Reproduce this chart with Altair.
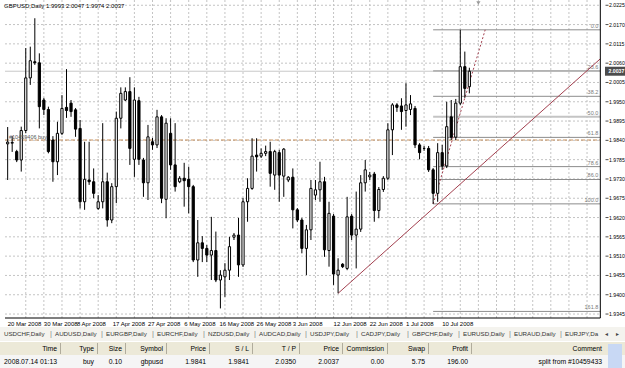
import altair as alt
import pandas as pd

# ---------------- data ----------------
OPEN = [1.9830,1.9832,1.9808,1.9784,1.9868,2.0018,2.0064,2.0061,1.9955,1.9928,
        1.9841,1.9779,1.9860,1.9934,1.9946,1.9927,1.9874,1.9665,1.9727,1.9722,
        1.9646,1.9665,1.9722,1.9613,1.9708,1.9903,1.9955,1.9979,1.9786,1.9953,
        1.9784,1.9719,1.9836,1.9827,1.9907,1.9672,1.9860,1.9770,1.9722,1.9732,
        1.9729,1.9708,1.9499,1.9548,1.9532,1.9513,1.9526,1.9442,1.9451,1.9470,
        1.9564,1.9570,1.9485,1.9665,1.9703,1.9798,1.9795,1.9803,1.9808,1.9741,
        1.9805,1.9738,1.9727,1.9735,1.9642,1.9613,1.9532,1.9585,1.9684,1.9699,
        1.9722,1.9526,1.9624,1.9456,1.9487,1.9475,1.9624,1.9570,1.9587,1.9719,
        1.9736,1.9744,1.9640,1.9700,1.9732,1.9870,1.9941,1.9938,1.9925,1.9928,
        1.9931,1.9827,1.9817,1.9817,1.9756,1.9689,1.9805,1.9767,1.9907,1.9849,
        1.9946,2.0050,1.9993]
HIGH = [1.9878,1.9852,1.9813,1.9879,2.0103,2.0107,2.0188,2.0088,1.9961,1.9936,
        1.9852,1.9893,1.9969,2.0043,1.9955,1.9932,1.9898,1.9836,1.9836,1.9760,
        1.9684,1.9889,1.9748,1.9718,1.9922,1.9991,1.9991,2.0020,1.9991,1.9964,
        1.9790,1.9884,1.9847,1.9927,1.9912,1.9903,1.9903,1.9889,1.9738,1.9776,
        1.9765,1.9713,1.9613,1.9567,1.9542,1.9622,1.9580,1.9470,1.9490,1.9565,
        1.9576,1.9619,1.9676,1.9732,1.9846,1.9846,1.9817,1.9825,1.9836,1.9813,
        1.9813,1.9818,1.9738,1.9760,1.9647,1.9619,1.9599,1.9727,1.9727,1.9779,
        1.9736,1.9665,1.9630,1.9504,1.9490,1.9679,1.9630,1.9694,1.9741,1.9784,
        1.9750,1.9750,1.9707,1.9738,1.9889,1.9946,1.9946,1.9960,2.0003,1.9969,
        1.9938,1.9832,1.9824,1.9824,1.9761,1.9832,1.9827,1.9950,1.9955,1.9958,
        2.0155,2.0093,2.0047]
LOW = [1.9727,1.9807,1.9778,1.9751,1.9861,1.9998,2.0055,1.9874,1.9912,1.9803,
       1.9722,1.9741,1.9855,1.9904,1.9907,1.9850,1.9646,1.9642,1.9713,1.9675,
       1.9642,1.9646,1.9594,1.9604,1.9661,1.9874,1.9952,1.9770,1.9736,1.9770,
       1.9679,1.9670,1.9813,1.9818,1.9661,1.9618,1.9756,1.9694,1.9718,1.9651,
       1.9632,1.9493,1.9451,1.9493,1.9493,1.9442,1.9436,1.9361,1.9394,1.9442,
       1.9556,1.9451,1.9479,1.9608,1.9699,1.9751,1.9790,1.9795,1.9708,1.9699,
       1.9665,1.9679,1.9721,1.9589,1.9607,1.9518,1.9456,1.9556,1.9670,1.9665,
       1.9508,1.9480,1.9428,1.9404,1.9476,1.9470,1.9556,1.9475,1.9579,1.9694,
       1.9727,1.9608,1.9618,1.9693,1.9727,1.9798,1.9921,1.9870,1.9879,1.9912,
       1.9818,1.9786,1.9810,1.9750,1.9659,1.9665,1.9756,1.9761,1.9841,1.9841,
       1.9941,1.9961,1.9974]
CLOSE = [1.9835,1.9834,1.9784,1.9868,2.0018,2.0067,2.0061,1.9936,1.9928,1.9808,
         1.9779,1.9860,1.9931,1.9925,1.9922,1.9872,1.9665,1.9729,1.9722,1.9689,
         1.9665,1.9722,1.9613,1.9708,1.9903,1.9974,1.9979,1.9817,1.9955,1.9786,
         1.9719,1.9850,1.9827,1.9907,1.9675,1.9889,1.9770,1.9708,1.9732,1.9725,
         1.9708,1.9499,1.9548,1.9532,1.9513,1.9526,1.9442,1.9456,1.9470,1.9537,
         1.9570,1.9485,1.9665,1.9703,1.9795,1.9793,1.9803,1.9808,1.9746,1.9808,
         1.9741,1.9815,1.9735,1.9642,1.9613,1.9532,1.9585,1.9703,1.9699,1.9722,
         1.9528,1.9632,1.9459,1.9470,1.9480,1.9622,1.9570,1.9587,1.9719,1.9756,
         1.9741,1.9640,1.9700,1.9732,1.9870,1.9941,1.9934,1.9922,1.9941,1.9944,
         1.9827,1.9805,1.9817,1.9756,1.9689,1.9805,1.9767,1.9879,1.9849,1.9946,
         2.0050,1.9988,2.0037]

DATE_LABELS = ["20 Mar 2008", "30 Mar 2008", "8 Apr 2008", "17 Apr 2008", "27 Apr 2008",
               "6 May 2008", "16 May 2008", "26 May 2008", "3 Jun 2008", "12 Jun 2008",
               "22 Jun 2008", "1 Jul 2008", "10 Jul 2008"]
DATE_IDX = [0, 8, 15.3, 23.2, 31, 39, 46.8, 55, 63, 72, 80, 88, 96]

PRICE_TICKS = [2.0225, 2.0170, 2.0115, 2.0060, 2.0005, 1.9950, 1.9895, 1.9840,
               1.9785, 1.9730, 1.9675, 1.9620, 1.9565, 1.9510, 1.9455, 1.9400, 1.9345]

BID = 2.0037
ORDER_PRICE = 1.9841
FIB_HIGH, FIB_LOW = 2.0155, 1.9659
FIB_START_IDX = 94
FIB_LEVELS = [0.0, 23.6, 38.2, 50.0, 61.8, 78.6, 86.0, 100.0, 161.8]
FIB_DIAG_IDX = [94, 105.5]
TREND_IDX = [73, 130.9]
TREND_PRICE = [1.9404, 2.0072]
SHIFT_IDX = 104

TABS = ["USDCHF,Daily", "AUDUSD,Daily", "EURGBP,Daily", "EURCHF,Daily", "NZDUSD,Daily",
        "AUDCAD,Daily", "USDJPY,Daily", "CADJPY,Daily", "GBPCHF,Daily", "EURUSD,Daily",
        "EURAUD,Daily", "EURJPY,Da"]
HEADERS = ["Time", "Type", "Size", "Symbol", "Price", "S / L", "T / P", "Price",
           "Commission", "Swap", "Profit", "Comment"]
ROW = ["2008.07.14 01:13", "buy", "0.10", "gbpusd", "1.9841", "1.9841", "2.0350",
       "2.0037", "0.00", "5.75", "196.00", "split from #10459433"]

# ---------------- layout (pixels) ----------------
W, H = 625, 368
X0_PX, BAR_PX = 2.7, 4.6          # first bar centre, bar spacing
Y_TOP_PRICE, PX_PRICE = 2.0240, 0.000285
AXIS_PX = 605
BOTTOM_PX = 318
FONT = "Liberation Sans"

XS = alt.Scale(domain=[-X0_PX / BAR_PX, (W - X0_PX) / BAR_PX], range=[0, W], nice=False, zero=False)
YS = alt.Scale(domain=[Y_TOP_PRICE - H * PX_PRICE, Y_TOP_PRICE], range=[H, 0], nice=False, zero=False)
X_LEFT = -X0_PX / BAR_PX
X_RIGHT = (AXIS_PX - X0_PX) / BAR_PX
Y_BOTTOM = Y_TOP_PRICE - BOTTOM_PX * PX_PRICE

n = len(OPEN)
df = pd.DataFrame({"idx": list(range(n)), "open": OPEN, "high": HIGH, "low": LOW, "close": CLOSE})
df["bull"] = df["close"] >= df["open"]

def X(f):
    return alt.X(f, type="quantitative", scale=XS, axis=None)

def Y(f):
    return alt.Y(f, type="quantitative", scale=YS, axis=None)

one = pd.DataFrame({"a": [0]})

def ptext(s, x, y, align="left", size=6.3, color="#000000", weight="normal"):
    return alt.Chart(one).mark_text(text=s, align=align, baseline="middle", fontSize=size,
                                    color=color, font=FONT, fontWeight=weight).encode(
        x=alt.value(x), y=alt.value(y))

def prect(x1, y1, x2, y2, fill, stroke=None):
    kw = dict(fill=fill)
    if stroke:
        kw.update(stroke=stroke, strokeWidth=1)
    return alt.Chart(one).mark_rect(**kw).encode(
        x=alt.value(x1), x2=alt.value(x2), y=alt.value(y1), y2=alt.value(y2))

layers = []

# grid
gh = pd.DataFrame({"p": PRICE_TICKS, "x1": X_LEFT, "x2": X_RIGHT})
layers.append(alt.Chart(gh).mark_rule(color="#c4c4c4", strokeDash=[2, 2], strokeWidth=1).encode(
    y=Y("p"), x=X("x1"), x2="x2"))
gv = pd.DataFrame({"i": list(range(4, 131, 4)), "y1": Y_BOTTOM, "y2": Y_TOP_PRICE})
layers.append(alt.Chart(gv).mark_rule(color="#c4c4c4", strokeDash=[2, 2], strokeWidth=1).encode(
    x=X("i"), y=Y("y1"), y2="y2"))

# bid line
layers.append(alt.Chart(pd.DataFrame({"p": [BID], "x1": [X_LEFT], "x2": [X_RIGHT]})).mark_rule(
    color="#c8c8c8", strokeWidth=1).encode(y=Y("p"), x=X("x1"), x2="x2"))

# order line
layers.append(alt.Chart(pd.DataFrame({"p": [ORDER_PRICE], "x1": [X_LEFT], "x2": [X_RIGHT]})).mark_rule(
    color="#c9925f", strokeDash=[4, 2], strokeWidth=1).encode(y=Y("p"), x=X("x1"), x2="x2"))

# fibonacci
fib = pd.DataFrame({"lvl": FIB_LEVELS})
fib["p"] = FIB_HIGH - fib["lvl"] / 100.0 * (FIB_HIGH - FIB_LOW)
fib["lab"] = fib["lvl"].map(lambda v: f"{v:.1f}")
fib["x1"] = FIB_START_IDX
fib["x2"] = X_RIGHT
fib_main = fib[fib["lvl"] != 50.0]
fib_half = fib[fib["lvl"] == 50.0]
layers.append(alt.Chart(fib_main).mark_rule(color="#8c8c8c", strokeWidth=1).encode(
    y=Y("p"), x=X("x1"), x2="x2"))
layers.append(alt.Chart(fib_half).mark_rule(color="#c4c4c4", strokeWidth=2).encode(
    y=Y("p"), x=X("x1"), x2="x2"))
layers.append(alt.Chart(fib).mark_text(align="right", baseline="bottom", fontSize=5.5, color="#7a7a7a",
                                       font=FONT, dx=-2, dy=-1).encode(
    y=Y("p"), x=X("x2"), text="lab:N"))
fdiag = pd.DataFrame({"i": FIB_DIAG_IDX, "p": [FIB_LOW, FIB_HIGH]})
layers.append(alt.Chart(fdiag).mark_line(color="#a3404f", strokeDash=[2, 2], strokeWidth=1).encode(
    x=X("i"), y=Y("p")))

# trend line
tr = pd.DataFrame({"i": TREND_IDX, "p": TREND_PRICE})
layers.append(alt.Chart(tr).mark_line(color="#a3404f", strokeWidth=1).encode(x=X("i"), y=Y("p")))

# candles
layers.append(alt.Chart(df).mark_rule(color="#000000", strokeWidth=1).encode(
    x=X("idx"), y=Y("low"), y2="high"))
layers.append(alt.Chart(df).mark_bar(size=2.2, stroke="#000000", strokeWidth=1).encode(
    x=X("idx"), y=Y("open"), y2="close",
    fill=alt.Fill("bull:N", scale=alt.Scale(domain=[True, False], range=["#ffffff", "#000000"]), legend=None)))

# axes frame
layers.append(alt.Chart(pd.DataFrame({"x": [X_RIGHT], "y1": [Y_BOTTOM], "y2": [Y_TOP_PRICE]})).mark_rule(
    color="#000000", strokeWidth=1).encode(x=X("x"), y=Y("y1"), y2="y2"))
layers.append(alt.Chart(pd.DataFrame({"y": [Y_BOTTOM], "x1": [X_LEFT], "x2": [X_RIGHT]})).mark_rule(
    color="#000000", strokeWidth=1).encode(y=Y("y"), x=X("x1"), x2="x2"))

# chart-shift marker
layers.append(alt.Chart(pd.DataFrame({"i": [SHIFT_IDX]})).mark_point(
    shape="triangle-down", filled=True, color="#9a9a9a", size=18, opacity=1).encode(
    x=X("i"), y=alt.value(3)))

# price axis
pt = pd.DataFrame({"p": PRICE_TICKS, "lab": [f"{v:.4f}" for v in PRICE_TICKS]})
layers.append(alt.Chart(pt).mark_tick(color="#000000", thickness=1, size=3, orient="horizontal").encode(
    y=Y("p"), x=alt.value(AXIS_PX + 2)))
layers.append(alt.Chart(pt).mark_text(align="left", baseline="middle", fontSize=5.2, font=FONT, color="#000000").encode(
    y=Y("p"), x=alt.value(AXIS_PX + 4), text="lab:N"))
bid_df = pd.DataFrame({"p": [BID], "lab": [f"{BID:.4f}"]})
layers.append(alt.Chart(bid_df).mark_tick(color="#000000", thickness=9, size=20, orient="horizontal").encode(
    y=Y("p"), x=alt.value(AXIS_PX + 10)))
layers.append(alt.Chart(bid_df).mark_text(align="left", baseline="middle", fontSize=5.2, font=FONT,
                                          color="#ffffff", fontWeight="bold").encode(
    y=Y("p"), x=alt.value(AXIS_PX + 3.5), text="lab:N"))

# date axis
dl = pd.DataFrame({"i": DATE_IDX, "lab": DATE_LABELS})
layers.append(alt.Chart(dl).mark_text(align="left", baseline="middle", fontSize=6, font=FONT, color="#000000").encode(
    x=X("i"), y=alt.value(BOTTOM_PX + 5.5), text="lab:N"))

# title & order label
layers.append(ptext("GBPUSD,Daily  1.9993 2.0047 1.9974 2.0037", 4, 6, size=6))
ord_df = pd.DataFrame({"p": [ORDER_PRICE], "i": [X_LEFT], "lab": ["#10459406 buy"]})
layers.append(alt.Chart(ord_df).mark_text(align="left", baseline="bottom", fontSize=5.5, font=FONT,
                                          color="#555555", dx=4, dy=0).encode(
    x=X("i"), y=Y("p"), text="lab:N"))

# ---------- terminal area ----------
layers.append(prect(0, 327, W, 341, "#f4f3ee"))
tab_x = 4
tab_step = 51.0
for k, t in enumerate(TABS):
    layers.append(ptext(t, tab_x + k * tab_step, 334, size=6.2, color="#333333"))
    if k > 0:
        layers.append(ptext("|", tab_x + k * tab_step - 5, 334, size=7.5, color="#888888"))
layers.append(ptext("◄", 604, 334, size=5, color="#444444"))
layers.append(ptext("►", 615, 334, size=5, color="#444444"))

layers.append(prect(0, 342, W, 355, "#ece9d8"))
layers.append(prect(0, 355, W, H, "#f5f5f5"))
col_right = [57, 94, 122, 163, 206, 249, 296, 339, 384, 425, 468, 602]
col_sep = [60, 97, 125, 166, 209, 252, 299, 342, 387, 428, 471]
for k in range(len(HEADERS)):
    layers.append(ptext(HEADERS[k], col_right[k], 348.5, align="right", size=6.8, color="#000000"))
    layers.append(ptext(ROW[k], col_right[k], 361.5, align="right", size=6.8, color="#000000"))
for s in col_sep:
    layers.append(prect(s, 343, s + 1, 354, "#b0ac9c"))
layers.append(prect(608, 344, 622, 368, "#c8d8f4"))

chart = alt.layer(*layers).properties(
    width=W, height=H, autosize=alt.AutoSizeParams(type="none"), padding=0, background="#ffffff"
).configure_view(strokeWidth=0)

chart.save("out.html", embed_options={"renderer": "svg", "actions": False})
